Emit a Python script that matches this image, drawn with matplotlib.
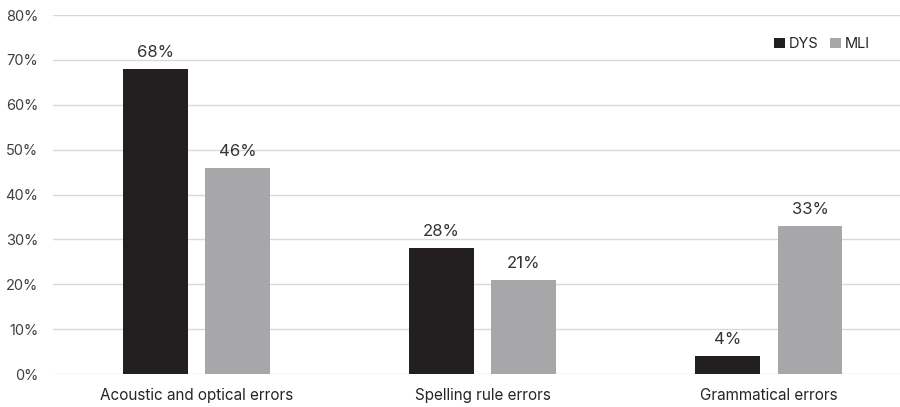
import matplotlib.pyplot as plt
import numpy as np

plt.rcParams['font.family'] = ['Inter', 'DejaVu Sans']

# data
categories = ["Acoustic and optical errors", "Spelling rule errors", "Grammatical errors"]
dys = [68, 28, 4]
mli = [46, 21, 33]
yticks = [0, 10, 20, 30, 40, 50, 60, 70, 80]

text_color = "#404040"
fig = plt.figure(figsize=(9, 4.07), dpi=100)
ax = fig.add_axes([0.0594, 0.081, 0.9534, 0.882])

x = np.arange(len(categories))
w = 0.227
b1 = ax.bar(x - 0.143, dys, w, color="#231f20", label="DYS", zorder=3)
b2 = ax.bar(x + 0.145, mli, w, color="#a7a7a9", label="MLI", zorder=3)

# value labels above bars
for bars in (b1, b2):
    for rect in bars:
        ax.text(rect.get_x() + rect.get_width() / 2, rect.get_height() + 2.0,
                f"{rect.get_height():.0f}%", ha="center", va="bottom",
                fontsize=12, color="#333333")

ax.set_xlim(-0.5, 2.5)
ax.set_ylim(0, 80)
ax.set_yticks(yticks)
ax.set_yticklabels([f"{t}%" for t in yticks], fontsize=10.5, color=text_color)
ax.set_xticks(x)
ax.set_xticklabels(categories, fontsize=11, color="#262626")
ax.tick_params(length=0)
ax.tick_params(axis="y", pad=11)
ax.tick_params(axis="x", pad=10)
ax.grid(axis="y", color="#d9d9d9", linewidth=1, zorder=0)
for s in ax.spines.values():
    s.set_visible(False)

ax.legend(loc="upper right", bbox_to_anchor=(0.967, 0.975), ncol=2, frameon=False,
          fontsize=10.5, handlelength=0.7, handleheight=0.7, handletextpad=0.3,
          columnspacing=0.8, labelcolor="#262626")

fig.savefig("out.png", dpi=100)
